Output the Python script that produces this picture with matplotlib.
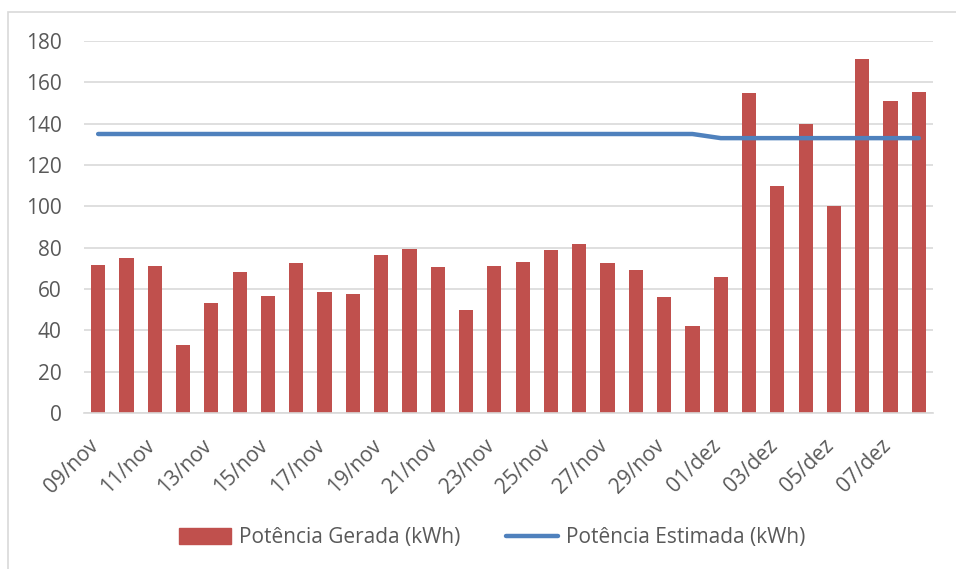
import matplotlib
matplotlib.use("Agg")
import matplotlib.pyplot as plt
from matplotlib.patches import Rectangle
from matplotlib.lines import Line2D
from matplotlib.transforms import ScaledTranslation

dates = ["09/nov", "10/nov", "11/nov", "12/nov", "13/nov", "14/nov", "15/nov", "16/nov",
         "17/nov", "18/nov", "19/nov", "20/nov", "21/nov", "22/nov", "23/nov", "24/nov",
         "25/nov", "26/nov", "27/nov", "28/nov", "29/nov", "30/nov",
         "01/dez", "02/dez", "03/dez", "04/dez", "05/dez", "06/dez", "07/dez", "08/dez"]
gerada = [71.5, 75, 71, 33, 53, 68, 56.5, 72.5, 58.5, 57.5, 76.5, 79.5, 70.5, 50, 71,
          73, 79, 82, 72.5, 69, 56, 42, 66, 155, 110, 140, 100, 171.5, 151, 155.5]
estimada = [135] * 22 + [133] * 8
yticks = [0, 20, 40, 60, 80, 100, 120, 140, 160, 180]

FONT = "Open Sans"
TXT = "#595959"
FS = 15

fig = plt.figure(figsize=(9.56, 5.69), dpi=100)
fig.patches.append(Rectangle((8 / 956, -0.1), 1.2, (569 - 12) / 569 + 0.1,
                             transform=fig.transFigure, fill=False,
                             edgecolor="#D9D9D9", linewidth=1.2, zorder=0))
ax = fig.add_axes([84 / 956, (569 - 413) / 569, (933 - 84) / 956, (413 - 41) / 569])

x = list(range(len(dates)))
ax.bar(x, gerada, width=0.5, color="#C0504D", zorder=2)
ax.plot(x, estimada, color="#4F81BD", linewidth=3.2, solid_capstyle="round", zorder=3)

ax.set_xlim(-0.5, len(dates) - 0.5)
ax.set_ylim(0, 180)
ax.set_yticks(yticks)
ax.set_yticklabels([str(v) for v in yticks], fontfamily=FONT, fontsize=FS, color=TXT)
ax.set_xticks(x[::2])
ax.set_xticklabels(dates[::2], rotation=45, ha="right", va="top",
                   fontfamily=FONT, fontsize=FS, color=TXT)
ax.tick_params(axis="both", length=0)
ax.tick_params(axis="x", pad=16)
ax.tick_params(axis="y", pad=16)
shift = ScaledTranslation(0.045, 0, fig.dpi_scale_trans)
for lab in ax.get_xticklabels():
    lab.set_transform(lab.get_transform() + shift)

ax.grid(axis="y", color="#D9D9D9", linewidth=1.2, zorder=0)
ax.set_axisbelow(True)
for s in ["top", "right", "left"]:
    ax.spines[s].set_visible(False)
ax.spines["bottom"].set_color("#D9D9D9")
ax.spines["bottom"].set_linewidth(1.2)

handles = [Rectangle((0, 0), 1, 1, color="#C0504D"),
           Line2D([0], [0], color="#4F81BD", linewidth=3.2, solid_capstyle="round")]
fig.legend(handles, ["Potência Gerada (kWh)", "Potência Estimada (kWh)"],
           loc="center", bbox_to_anchor=(492 / 956, (569 - 538) / 569), ncol=2,
           frameon=False, prop={"family": FONT, "size": FS}, labelcolor=TXT,
           handlelength=2.5, handleheight=0.8, handletextpad=0.38, columnspacing=2.2)

fig.savefig("out.png", dpi=100)
